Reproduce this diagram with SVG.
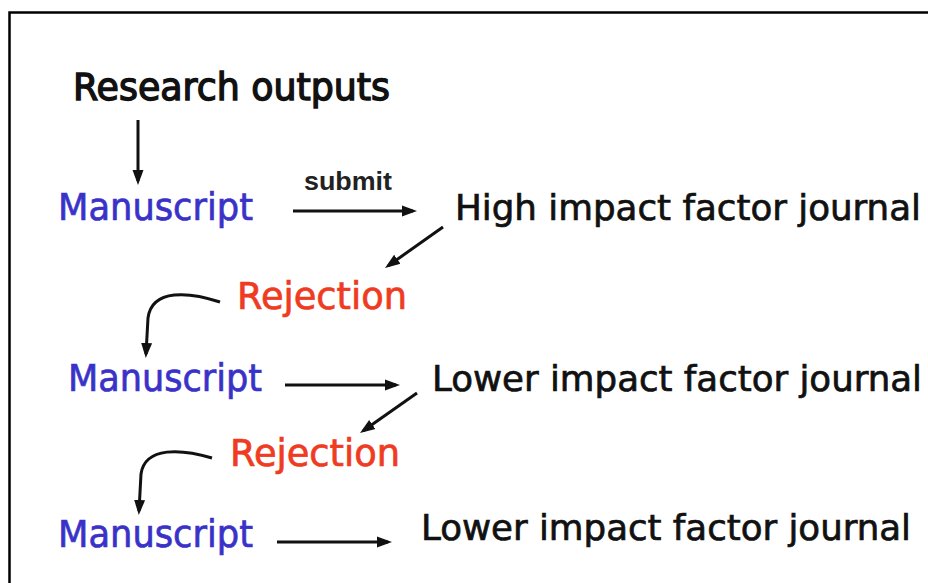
<svg xmlns="http://www.w3.org/2000/svg" width="928" height="583" viewBox="0 0 928 583">
<style>
  .t { font-family: "DejaVu Sans", "Liberation Sans", sans-serif; font-size: 37px; stroke-width: 0.7px; }
  .j { font-size: 35px; }
  .k { fill: #111111; stroke: #111111; }
  .b { fill: #3a32c8; stroke: #3a32c8; }
  .r { fill: #ee3b22; stroke: #ee3b22; }
  .h { stroke-width: 1.4px; }
  .s { font-family: "Liberation Sans", Arial, sans-serif; font-weight: bold; font-size: 25px; fill: #222222; }
  .c { fill: none; stroke: #111111; stroke-width: 3; }
</style>
<defs>
  <marker id="ah" markerUnits="userSpaceOnUse" markerWidth="15" markerHeight="13" viewBox="0 0 15 13" refX="11" refY="6.5" orient="auto">
    <path d="M0,1 L15,6.5 L0,12 z" fill="#111111"/>
  </marker>
</defs>
<rect width="928" height="583" fill="#ffffff"/>
<path d="M9.5,583 V12.5 H928" fill="none" stroke="#000000" stroke-width="2.5"/>

<g id="research-outputs"><text class="t k h" x="73" y="100" textLength="317" lengthAdjust="spacingAndGlyphs">Research outputs</text></g>
<g id="manuscript-1"><text class="t b" x="58" y="220" textLength="195" lengthAdjust="spacingAndGlyphs">Manuscript</text></g>
<g id="high-journal"><text class="t j k" x="455" y="220" textLength="466" lengthAdjust="spacingAndGlyphs">High impact factor journal</text></g>
<g id="rejection-1"><text class="t r" x="237" y="309" textLength="170" lengthAdjust="spacingAndGlyphs">Rejection</text></g>
<g id="manuscript-2"><text class="t b" x="68" y="391" textLength="194" lengthAdjust="spacingAndGlyphs">Manuscript</text></g>
<g id="lower-journal-1"><text class="t j k" x="432" y="391" textLength="490" lengthAdjust="spacingAndGlyphs">Lower impact factor journal</text></g>
<g id="rejection-2"><text class="t r" x="230" y="466" textLength="170" lengthAdjust="spacingAndGlyphs">Rejection</text></g>
<g id="manuscript-3"><text class="t b" x="58" y="547" textLength="195" lengthAdjust="spacingAndGlyphs">Manuscript</text></g>
<g id="lower-journal-2"><text class="t j k" x="421" y="540" textLength="490" lengthAdjust="spacingAndGlyphs">Lower impact factor journal</text></g>

<g id="connectors">
  <path class="c" d="M138,120 V181" marker-end="url(#ah)"/>
  <path class="c" d="M293,211 H413" marker-end="url(#ah)"/>
  <text class="s" x="304" y="190" textLength="88" lengthAdjust="spacingAndGlyphs">submit</text>
  <path class="c" d="M443,227 L388.3,265.7" marker-end="url(#ah)"/>
  <path class="c" d="M220,302 C190,292 152,288 148,318 L146,354" marker-end="url(#ah)"/>
  <path class="c" d="M285,385 H396" marker-end="url(#ah)"/>
  <path class="c" d="M417,393 L363.3,430.7" marker-end="url(#ah)"/>
  <path class="c" d="M212,458 C182,449 145,446 141,474 L139,511" marker-end="url(#ah)"/>
  <path class="c" d="M277,542 H388" marker-end="url(#ah)"/>
</g>
</svg>
